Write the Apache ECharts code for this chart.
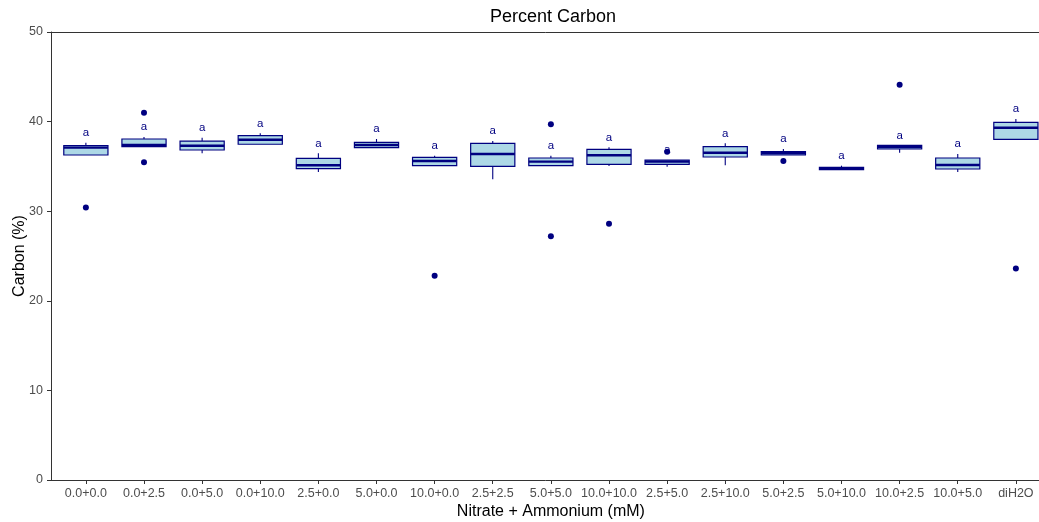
<!DOCTYPE html>
<html><head><meta charset="utf-8">
<script src="https://cdn.jsdelivr.net/npm/echarts@6/dist/echarts.min.js"></script>
<style>html,body{margin:0;padding:0;background:#fff}#c{width:1039px;height:522px}</style>
</head><body><div id="c"></div>
<script>
const categories = ['0.0+0.0','0.0+2.5','0.0+5.0','0.0+10.0','2.5+0.0','5.0+0.0','10.0+0.0','2.5+2.5','5.0+5.0','10.0+10.0','2.5+5.0','2.5+10.0','5.0+2.5','5.0+10.0','10.0+2.5','10.0+5.0','diH2O'];
const lowerWhisker = [36.27, 37.20, 36.46, 37.47, 34.38, 37.09, 35.08, 33.56, 35.08, 35.04, 34.97, 35.12, 36.27, 34.63, 36.53, 34.38, 37.95];
const q1           = [36.27, 37.20, 36.83, 37.47, 34.75, 37.09, 35.08, 35.00, 35.08, 35.23, 35.23, 36.05, 36.27, 34.63, 36.94, 34.71, 38.02];
const median       = [37.09, 37.39, 37.31, 37.98, 35.12, 37.39, 35.60, 36.38, 35.53, 36.24, 35.53, 36.53, 36.46, 34.75, 37.17, 35.16, 39.32];
const q3           = [37.31, 38.06, 37.83, 38.43, 35.90, 37.69, 36.00, 37.58, 35.94, 36.90, 35.71, 37.20, 36.64, 34.90, 37.35, 35.94, 39.92];
const upperWhisker = [37.64, 38.28, 38.20, 38.69, 36.46, 38.06, 36.20, 37.83, 36.20, 37.13, 35.71, 37.58, 36.94, 35.08, 37.35, 36.38, 40.29];
const outlierCat = ['0.0+0.0','0.0+2.5','0.0+2.5','10.0+0.0','5.0+5.0','5.0+5.0','10.0+10.0','2.5+5.0','5.0+2.5','10.0+2.5','diH2O'];
const outlierVal = [30.4, 41.0, 35.46, 22.8, 39.7, 27.2, 28.6, 36.64, 35.6, 44.1, 23.6];
const groupLetter = ['a','a','a','a','a','a','a','a','a','a','a','a','a','a','a','a','a'];
const yTicks = [0, 10, 20, 30, 40, 50];

const NAVY = '#000080';
const FILL = '#ADD8E6';
const BOX_W = 0.76;
const LABEL_OFFSET = 1.1;

const boxData = categories.map((c, i) => [i + 1, lowerWhisker[i], q1[i], median[i], q3[i], upperWhisker[i]]);
const outlierData = outlierCat.map((c, i) => [categories.indexOf(c) + 1, outlierVal[i]]);
const labelData = categories.map((c, i) => ({value: [i + 1, upperWhisker[i] + LABEL_OFFSET], letter: groupLetter[i]}));
const catPos = categories.map((c, i) => i + 1);

function renderBox(params, api) {
  const x = api.value(0);
  const lo = api.coord([x, api.value(1)]);
  const b1 = api.coord([x, api.value(2)]);
  const md = api.coord([x, api.value(3)]);
  const b3 = api.coord([x, api.value(4)]);
  const hi = api.coord([x, api.value(5)]);
  const w = api.size([BOX_W, 0])[0];
  const cx = lo[0];
  return {type: 'group', children: [
    {type: 'line', shape: {x1: cx, y1: b3[1], x2: cx, y2: hi[1]}, style: {stroke: NAVY, lineWidth: 1.1}},
    {type: 'line', shape: {x1: cx, y1: b1[1], x2: cx, y2: lo[1]}, style: {stroke: NAVY, lineWidth: 1.1}},
    {type: 'rect', shape: {x: cx - w / 2, y: b3[1], width: w, height: b1[1] - b3[1]}, style: {fill: FILL, stroke: NAVY, lineWidth: 1.2}},
    {type: 'line', shape: {x1: cx - w / 2, y1: md[1], x2: cx + w / 2, y2: md[1]}, style: {stroke: NAVY, lineWidth: 2.4}}
  ]};
}

const chart = echarts.init(document.getElementById('c'), null, {renderer: 'canvas'});
chart.setOption({
  animation: false,
  textStyle: {fontFamily: '"Liberation Sans", Arial, sans-serif'},
  title: {text: 'Percent Carbon', left: 485, top: 3, textStyle: {fontSize: 18, fontWeight: 'normal', color: '#000'}},
  grid: {left: 51, top: 32, bottom: 42, right: -11.75, containLabel: false, outerBoundsMode: 'none'},
  xAxis: [{
    type: 'value', min: 0.4, max: 17.6, position: 'bottom',
    axisLine: {show: true, lineStyle: {color: '#333', width: 1}},
    axisTick: {show: true, customValues: catPos, length: 4, lineStyle: {color: '#333'}},
    axisLabel: {customValues: catPos, formatter: v => categories[Math.round(v) - 1], color: '#4D4D4D', fontSize: 12.5, margin: 7},
    splitLine: {show: false},
    name: 'Nitrate + Ammonium (mM)', nameLocation: 'middle', nameGap: 24, nameMoveOverlap: false,
    nameTextStyle: {fontSize: 16, color: '#000'}
  }, {
    type: 'value', min: 0.4, max: 17.6, position: 'top',
    axisLine: {show: true, lineStyle: {color: '#333', width: 1}},
    axisTick: {show: false}, axisLabel: {show: false}, splitLine: {show: false}
  }],
  yAxis: {
    type: 'value', min: 0, max: 50, interval: 10,
    axisLine: {show: true, lineStyle: {color: '#333', width: 1}},
    axisTick: {show: true, length: 4, lineStyle: {color: '#333'}},
    axisLabel: {color: '#4D4D4D', fontSize: 12.5, margin: 8, customValues: yTicks},
    splitLine: {show: false},
    name: 'Carbon (%)', nameLocation: 'middle', nameGap: 23, nameMoveOverlap: false,
    nameTextStyle: {fontSize: 16, color: '#000'}
  },
  series: [{
    type: 'custom', xAxisIndex: 0, renderItem: renderBox, data: boxData,
    encode: {x: 0, y: [1, 2, 3, 4, 5]}, z: 2
  }, {
    type: 'scatter', xAxisIndex: 0, data: outlierData, symbolSize: 6,
    itemStyle: {color: NAVY, opacity: 1}, z: 3
  }, {
    type: 'scatter', xAxisIndex: 0, data: labelData, symbolSize: 0, z: 4,
    itemStyle: {opacity: 1},
    label: {show: true, position: 'inside', formatter: p => p.data.letter, color: NAVY, fontSize: 11.5}
  }]
});
</script></body></html>
